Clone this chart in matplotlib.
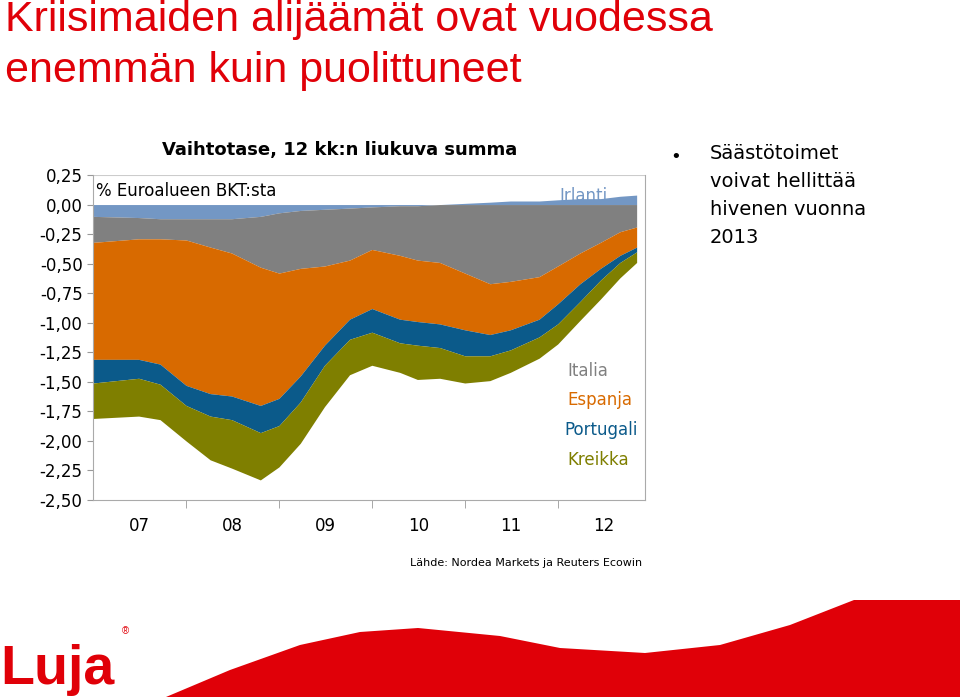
import numpy as np
import matplotlib
matplotlib.use("Agg")
import matplotlib.pyplot as plt
from matplotlib.patches import Polygon

years = [2007.0, 2007.49, 2007.72, 2008.0, 2008.26, 2008.49, 2008.8, 2009.0, 2009.23, 2009.49,
         2009.76, 2010.0, 2010.3, 2010.49, 2010.73, 2011.0, 2011.27, 2011.49, 2011.8, 2012.0,
         2012.24, 2012.46, 2012.67, 2012.85]
irlanti = [-0.10, -0.11, -0.12, -0.12, -0.12, -0.12, -0.10, -0.07, -0.05, -0.04, -0.03, -0.02,
           -0.01, -0.01, 0.0, 0.01, 0.02, 0.03, 0.03, 0.04, 0.05, 0.05, 0.07, 0.08]
italia = [-0.22, -0.18, -0.17, -0.18, -0.24, -0.29, -0.43, -0.51, -0.49, -0.48, -0.44, -0.36,
          -0.42, -0.46, -0.49, -0.58, -0.67, -0.65, -0.61, -0.52, -0.41, -0.32, -0.23, -0.19]
espanja = [-0.99, -1.02, -1.06, -1.23, -1.24, -1.21, -1.17, -1.06, -0.91, -0.67, -0.50, -0.50,
           -0.54, -0.52, -0.52, -0.48, -0.43, -0.41, -0.36, -0.32, -0.26, -0.22, -0.20, -0.17]
portugali = [-0.20, -0.16, -0.17, -0.17, -0.19, -0.20, -0.23, -0.23, -0.22, -0.17, -0.17, -0.20,
             -0.20, -0.20, -0.20, -0.22, -0.18, -0.17, -0.15, -0.17, -0.15, -0.10, -0.06, -0.04]
kreikka = [-0.30, -0.32, -0.30, -0.30, -0.37, -0.41, -0.40, -0.35, -0.35, -0.35, -0.30, -0.28,
           -0.25, -0.29, -0.26, -0.23, -0.21, -0.19, -0.18, -0.17, -0.16, -0.16, -0.13, -0.09]
yticks = [0.25, 0.0, -0.25, -0.5, -0.75, -1.0, -1.25, -1.5, -1.75, -2.0, -2.25, -2.5]
xlabels = ["07", "08", "09", "10", "11", "12"]

red = "#e00008"
fig = plt.figure(figsize=(9.6, 6.99), dpi=100)
plt.rcParams["font.family"] = "Liberation Sans"

ax = fig.add_axes([93/960, 1-500/699, 552/960, 325/699])
x = np.array(years)
irl = np.array(irlanti)
ax.fill_between(x, 0, irl, color="#7397c4", lw=0)
base = np.minimum(irl, 0)
cols = ["#808080", "#d86a00", "#0b5a8a", "#7f7f00"]
for s, c in zip([italia, espanja, portugali, kreikka], cols):
    nb = base + np.array(s)
    ax.fill_between(x, base, nb, color=c, lw=0)
    base = nb
ax.set_xlim(2006.999, 2012.94)
ax.set_ylim(-2.5, 0.25)
ax.set_yticks(yticks)
ax.set_yticklabels([f"{v:.2f}".replace(".", ",") for v in yticks], fontsize=12,
                   fontfamily="DejaVu Sans")
ax.set_xticks([2007 + i + 0.5 for i in range(6)])
ax.set_xticklabels(xlabels, fontsize=12, fontfamily="DejaVu Sans")
ax.set_xticks([2007 + i for i in range(1, 6)], minor=True)
ax.tick_params(axis="x", which="major", length=0, pad=12)
ax.tick_params(axis="x", which="minor", length=6, color="#999999")
ax.tick_params(axis="y", length=4, color="#999999")
ax.spines["top"].set_visible(False)
for sp in ["left", "bottom", "right"]:
    ax.spines[sp].set_color("#aaaaaa")
ax.axhline(0.25, color="#cccccc", lw=0.8)

ax.text(0.005, 0.98, "% Euroalueen BKT:sta", transform=ax.transAxes, va="top", fontsize=12,
        fontfamily="DejaVu Sans")
ax.text(2012.28, 0.03, "Irlanti", fontsize=12, color="#7397c4", fontfamily="DejaVu Sans", ha="center")
ax.text(2012.1, -1.45, "Italia", fontsize=12, color="#808080", fontfamily="DejaVu Sans")
ax.text(2012.1, -1.7, "Espanja", fontsize=12, color="#d86a00", fontfamily="DejaVu Sans")
ax.text(2012.07, -1.95, "Portugali", fontsize=12, color="#0b5a8a", fontfamily="DejaVu Sans")
ax.text(2012.1, -2.2, "Kreikka", fontsize=12, color="#7f7f00", fontfamily="DejaVu Sans")

fig.text(340/960, 1-150/699, "Vaihtotase, 12 kk:n liukuva summa", ha="center", va="center",
         fontsize=13, fontweight="bold", fontfamily="DejaVu Sans")
fig.text(5/960, 1-31/699, "Kriisimaiden alijäämät ovat vuodessa", va="baseline", fontsize=31, color=red)
fig.text(5/960, 1-82/699, "enemmän kuin puolittuneet", va="baseline", fontsize=31, color=red)
fig.text(672/960, 1-158/699, "•", fontsize=14, va="center")
fig.text(710/960, 1-144/699, "Säästötoimet\nvoivat hellittää\nhivenen vuonna\n2013", va="top",
         fontsize=14, linespacing=1.6, fontfamily="DejaVu Sans")
fig.text(642/960, 1-563/699, "Lähde: Nordea Markets ja Reuters Ecowin", ha="right", va="center",
         fontsize=8, fontfamily="DejaVu Sans")

# logo and wave
ov = fig.add_axes([0, 0, 1, 1], zorder=-1)
ov.set_xlim(0, 960); ov.set_ylim(699, 0); ov.axis("off")
wx = [166, 230, 300, 360, 418, 500, 560, 645, 720, 790, 854, 960, 960]
wy = [697, 670, 645, 632, 628, 636, 648, 653, 645, 625, 600, 600, 697]
ov.add_patch(Polygon(list(zip(wx, wy)), closed=True, color=red, lw=0))
ov.text(0, 684, "Luja", fontsize=40, fontweight="bold", color=red, va="baseline")
ov.text(122, 634, "®", fontsize=7, color=red)
fig.savefig("out.png", dpi=100)
